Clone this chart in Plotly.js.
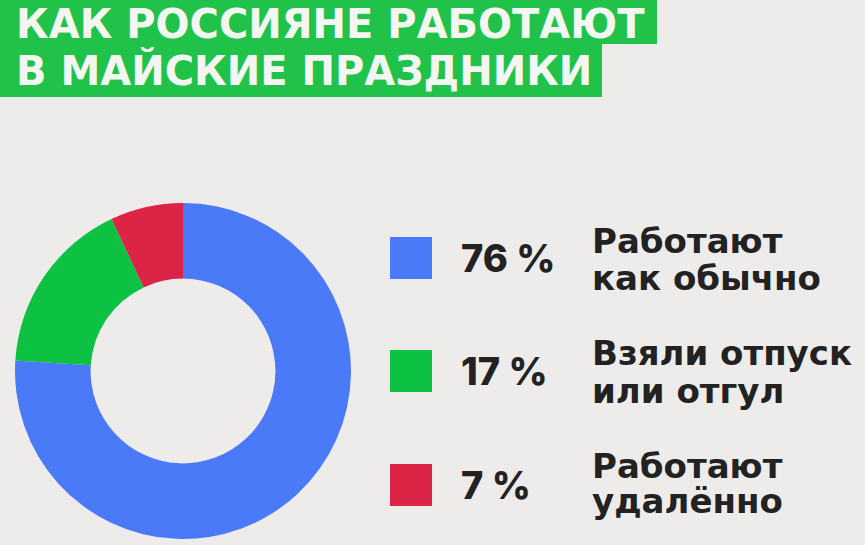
<!DOCTYPE html>
<html>
<head>
<meta charset="utf-8">
<script src="https://cdn.plot.ly/plotly-3.0.1.min.js"></script>
<style>
  html, body { margin: 0; padding: 0; background: #eeeceb; }
  #chart { width: 865px; height: 545px; }
</style>
</head>
<body>
<div id="chart"></div>
<script>

// Data
const titleLines = ["КАК РОССИЯНЕ РАБОТАЮТ", "В МАЙСКИЕ ПРАЗДНИКИ"];
const categories = ["Работают<br>как обычно", "Взяли отпуск<br>или отгул", "Работают<br>удалённо"];
const shares = [76, 17, 7];
const colours = ["#4a7af8", "#0dc143", "#dc2447"];

const W = 865, H = 545;
const px = x => x / W;
const py = y => 1 - y / H;

// Donut
let pie = {
  type: "pie",
  values: shares,
  labels: categories,
  sort: false,
  direction: "clockwise",
  rotation: 0,
  hole: 0.55,
  textinfo: "none",
  hoverinfo: "label+percent",
  marker: { colors: colours, line: { width: 0 } },
  domain: { x: [px(13), px(353)], y: [py(539), py(203)] },
  showlegend: false
};

// Green title boxes
let shapes = [
  { type: "rect", xref: "paper", yref: "paper", x0: px(0), x1: px(657), y0: py(44), y1: py(-2),
    fillcolor: "#20c24a", line: { width: 0 }, layer: "below" },
  { type: "rect", xref: "paper", yref: "paper", x0: px(0), x1: px(602), y0: py(97), y1: py(43),
    fillcolor: "#20c24a", line: { width: 0 }, layer: "below" }
];

let annotations = titleLines.map((t, i) => ({
  text: t,
  xref: "paper", yref: "paper",
  x: px(14), y: py(24 + i * 46),
  xanchor: "left", yanchor: "middle",
  showarrow: false,
  font: { family: "DejaVu Sans, sans-serif", size: 40, weight: 700, color: "#f4f6f2" }
}));

// Legend rows: square, share, two-line label
let rowY = [258, 371, 485];
let lineY = [[241, 278], [353, 391], [466, 501]];
shares.forEach((v, i) => {
  shapes.push({
    type: "rect", xref: "paper", yref: "paper",
    x0: px(390), x1: px(432), y0: py(rowY[i] + 21), y1: py(rowY[i] - 21),
    fillcolor: colours[i], line: { width: 0 }
  });
  annotations.push({
    text: v + " %",
    xref: "paper", yref: "paper",
    x: px(459), y: py(rowY[i]),
    xanchor: "left", yanchor: "middle",
    showarrow: false,
    font: { family: "Inter, sans-serif", size: 38, weight: 800, color: "#222222" }
  });
  categories[i].split("<br>").forEach((line, j) => {
    annotations.push({
      text: line,
      xref: "paper", yref: "paper",
      x: px(590), y: py(lineY[i][j]),
      xanchor: "left", yanchor: "middle", align: "left",
      showarrow: false,
      font: { family: "DejaVu Sans, sans-serif", size: 34, weight: 700, color: "#222222" }
    });
  });
});

let layout = {
  width: W,
  height: H,
  margin: { l: 0, r: 0, t: 0, b: 0 },
  paper_bgcolor: "#eeeceb",
  plot_bgcolor: "#eeeceb",
  showlegend: false,
  shapes: shapes,
  annotations: annotations
};

Plotly.newPlot("chart", [pie], layout, { displayModeBar: false, staticPlot: true });

</script>
</body>
</html>
